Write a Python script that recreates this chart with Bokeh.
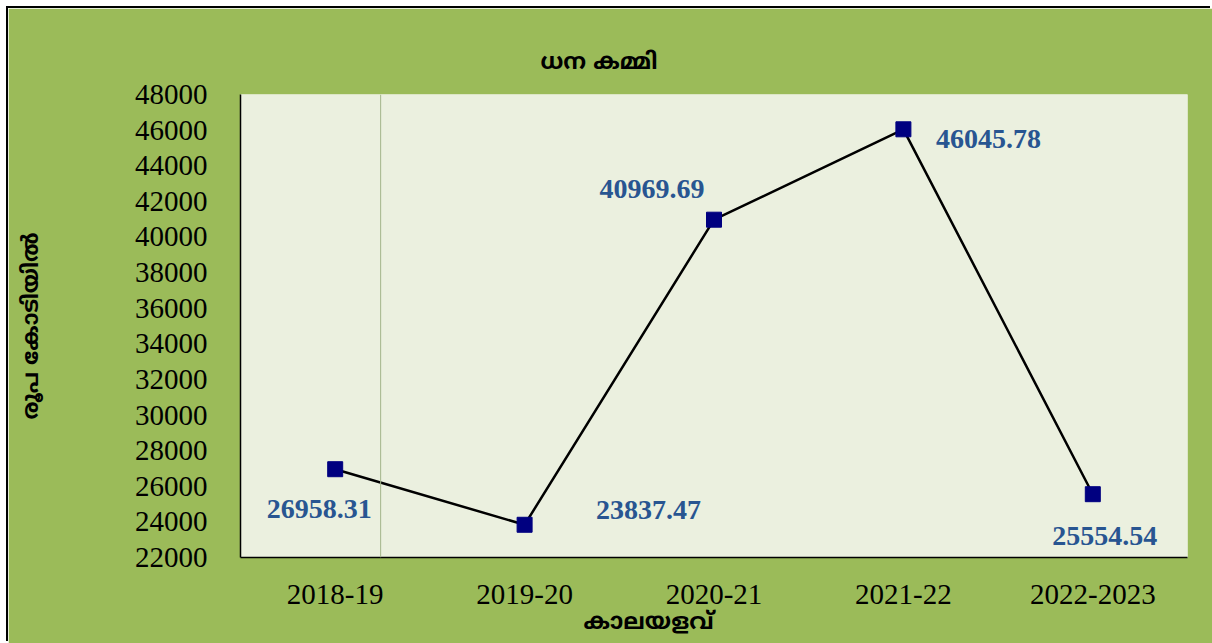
from bokeh.plotting import figure
from bokeh.models import Range1d, FactorRange, SingleIntervalTicker, Span, ColumnDataSource, Title
from bokeh.embed import file_html
from bokeh.resources import INLINE
from bokeh.core.properties import value

# ---- data ----
periods = ["2018-19", "2019-20", "2020-21", "2021-22", "2022-2023"]
deficit = [26958.31, 23837.47, 40969.69, 46045.78, 25554.54]
labels = ["26958.31", "23837.47", "40969.69", "46045.78", "25554.54"]
title_text = "ധന കമ്മി"
y_label = "രൂപ കോടിയിൽ"
x_label = "കാലയളവ്"

# ---- layout of the data labels (screen px offsets) ----
label_dx = [-16, 124, -62, 85, 12]
label_dy = [40, -15, -31, 10, 42]

ML_FONT = "'Noto Sans Malayalam', 'Noto Sans', sans-serif"
SERIF = "'Liberation Serif', 'Times New Roman', serif"

p = figure(width=1204, height=635, x_range=FactorRange(*periods),
           y_range=Range1d(22000, 48000), output_backend="svg",
           toolbar_location=None)
p.margin = (8, 0, 0, 8)
p.min_border_left = 232
p.min_border_right = 25
p.min_border_top = 86
p.min_border_bottom = 86
p.border_fill_color = "#9BBB59"
p.background_fill_color = "#EBF0DF"
p.outline_line_color = None
p.styles = {"box-shadow": "-2px -2px 0 0 black"}
p.xgrid.grid_line_color = None
p.ygrid.grid_line_color = None

p.yaxis.ticker = SingleIntervalTicker(interval=2000)
p.yaxis.formatter.use_scientific = False
for ax in (p.xaxis[0], p.yaxis[0]):
    ax.axis_line_color = "black"
    ax.axis_line_width = 1.5
    ax.major_tick_line_color = None
    ax.minor_tick_line_color = None
    ax.major_label_text_font = SERIF
    ax.major_label_text_font_size = "29px"
    ax.major_label_text_color = "black"
p.yaxis.major_label_standoff = 27
p.xaxis.major_label_standoff = 21

p.yaxis.axis_label = y_label
p.yaxis.axis_label_text_font = ML_FONT
p.yaxis.axis_label_text_font_style = "bold"
p.yaxis.axis_label_text_font_size = "22px"
p.yaxis.axis_label_standoff = 86
p.yaxis.axis_label_text_color = "black"

stray = Span(location=0.74, dimension="height", line_color="#A3B58A", line_width=1)
p.add_layout(stray)

src = ColumnDataSource(dict(x=periods, y=deficit, t=labels, dx=label_dx, dy=label_dy))
p.line("x", "y", source=src, line_color="black", line_width=2.5)
p.scatter("x", "y", source=src, marker="square", size=15, fill_color="#000080",
          line_color="#000080")
p.text("x", "y", text="t", source=src, x_offset="dx", y_offset="dy",
       text_font=value(SERIF), text_font_style="bold", text_font_size="28px",
       text_color="#285591", text_align="center", text_baseline="middle")

p.add_layout(Title(text=title_text, align="left", offset=300, standoff=33,
                   text_font=ML_FONT, text_font_style="bold", text_font_size="23px",
                   text_color="black"), "above")
p.add_layout(Title(text=x_label, align="left", offset=343, standoff=0,
                   text_font=ML_FONT, text_font_style="bold", text_font_size="23px",
                   text_color="black"), "below")

open("out.html", "w").write(file_html(p, INLINE))
